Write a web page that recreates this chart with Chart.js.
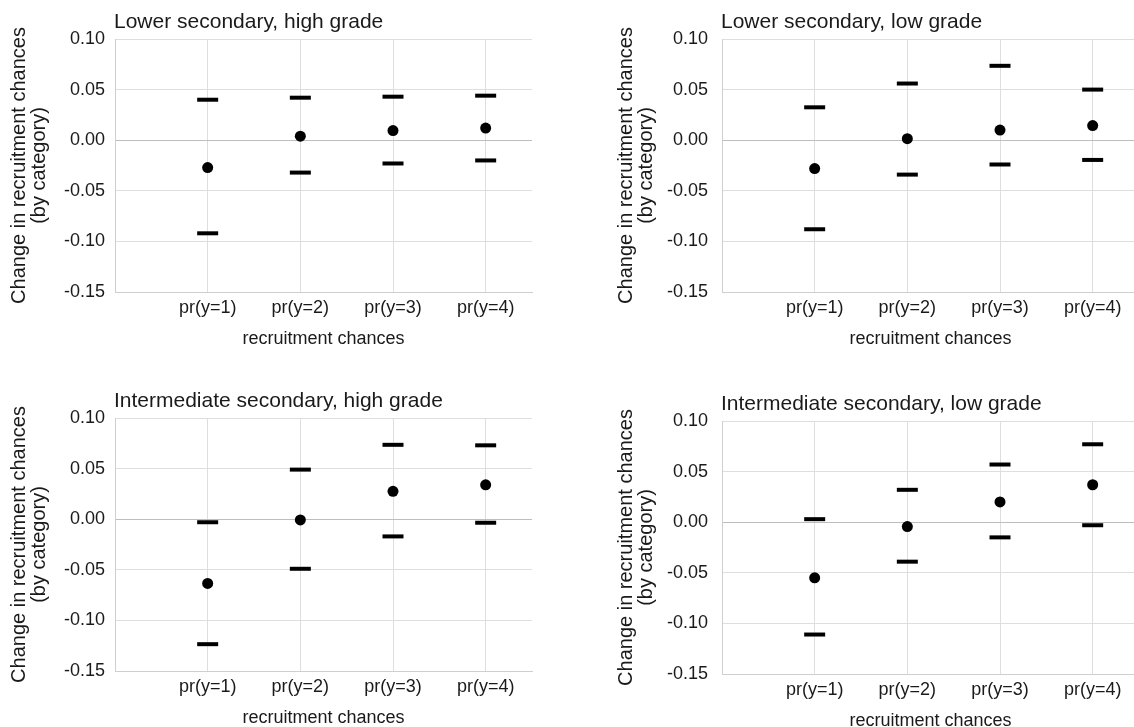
<!DOCTYPE html>
<html>
<head>
<meta charset="utf-8">
<script src="https://cdn.jsdelivr.net/npm/chart.js@4"></script>
<style>
  body { margin: 0; background: #fff; width: 1134px; height: 727px; overflow: hidden; position: relative; }
  canvas { position: absolute; }
</style>
</head>
<body>
<canvas id="c1" width="560" height="360" style="left:0px;top:0px"></canvas>
<canvas id="c2" width="560" height="360" style="left:607px;top:0px"></canvas>
<canvas id="c3" width="560" height="360" style="left:0px;top:379px"></canvas>
<canvas id="c4" width="560" height="360" style="left:607px;top:382px"></canvas>
<script>
const categories = ['pr(y=1)', 'pr(y=2)', 'pr(y=3)', 'pr(y=4)'];
const yTicks = [-0.15, -0.10, -0.05, 0, 0.05, 0.10];

// Lower secondary, high grade
const lowHighEst = [-0.027, 0.004, 0.0095, 0.012];
const lowHighLo = [-0.092, -0.032, -0.023, -0.020];
const lowHighUp = [0.040, 0.042, 0.043, 0.044];

// Lower secondary, low grade
const lowLowEst = [-0.028, 0.0015, 0.010, 0.0145];
const lowLowLo = [-0.088, -0.034, -0.024, -0.0195];
const lowLowUp = [0.0325, 0.056, 0.0735, 0.050];

// Intermediate secondary, high grade
const midHighEst = [-0.0635, -0.0007, 0.0275, 0.034];
const midHighLo = [-0.1235, -0.049, -0.017, -0.0035];
const midHighUp = [-0.003, 0.049, 0.0735, 0.073];

// Intermediate secondary, low grade
const midLowEst = [-0.055, -0.0043, 0.020, 0.037];
const midLowLo = [-0.111, -0.039, -0.015, -0.003];
const midLowUp = [0.003, 0.032, 0.057, 0.077];

Chart.defaults.font.family = '"Liberation Sans", Arial, sans-serif';
Chart.defaults.color = '#1a1a1a';

// titolo del pannello allineato all'area del grafico
const panelTitle = {
    id: 'panelTitle',
    afterDraw(chart, args, opts) {
        const ctx = chart.ctx;
        ctx.save();
        ctx.font = '21px "Liberation Sans", Arial, sans-serif';
        ctx.fillStyle = '#1a1a1a';
        ctx.textBaseline = 'alphabetic';
        ctx.fillText(opts.text, chart.chartArea.left - 1, chart.chartArea.top - 11);
        ctx.restore();
    }
};

function toPoints(values) {
    return values.map((v, i) => ({ x: i + 1, y: v }));
}

function renderPanel(id, title, est, lo, up, tickPad) {
    const ctx = document.getElementById(id).getContext('2d');
    const bound = data => ({
        data: toPoints(data),
        pointStyle: 'line',
        radius: 10.5,
        borderWidth: 4,
        borderColor: '#000',
        backgroundColor: '#000'
    });
    new Chart(ctx, {
        type: 'scatter',
        data: {
            datasets: [
                bound(up),
                bound(lo),
                {
                    data: toPoints(est),
                    pointStyle: 'circle',
                    radius: 5.5,
                    borderWidth: 0,
                    backgroundColor: '#000'
                }
            ]
        },
        options: {
            responsive: false,
            animation: false,
            devicePixelRatio: 1,
            layout: { padding: { top: 39, right: 28, bottom: 0, left: 0 } },
            plugins: {
                legend: { display: false },
                tooltip: { enabled: false },
                panelTitle: { text: title }
            },
            scales: {
                x: {
                    type: 'linear',
                    min: 0,
                    max: 4.5,
                    afterBuildTicks: scale => {
                        scale.ticks = categories.map((c, i) => ({ value: i + 1 }));
                    },
                    afterFit: scale => { scale.height = 68; },
                    ticks: {
                        padding: 5,
                        font: { size: 18 },
                        callback: v => categories[v - 1]
                    },
                    grid: { color: '#dedede', lineWidth: 1, drawTicks: false },
                    border: { display: true, color: '#cfcfcf' },
                    title: {
                        display: true,
                        text: 'recruitment chances',
                        font: { size: 18 },
                        padding: { top: 0, bottom: 10 }
                    }
                },
                y: {
                    min: -0.15,
                    max: 0.10,
                    afterBuildTicks: scale => {
                        scale.ticks = yTicks.map(v => ({ value: v }));
                    },
                    afterFit: scale => { scale.width = 115; },
                    ticks: {
                        padding: tickPad,
                        font: { size: 18 },
                        callback: v => v.toFixed(2)
                    },
                    grid: {
                        drawTicks: false,
                        color: c => (c.tick && c.tick.value === 0 ? '#bdbdbd' : '#dedede')
                    },
                    border: { display: true, color: '#cfcfcf' },
                    title: {
                        display: true,
                        text: ['Change in recruitment chances', '(by category)'],
                        font: { size: 20, lineHeight: 1 },
                        padding: { top: 9, bottom: 0 }
                    }
                }
            }
        },
        plugins: [panelTitle]
    });
}

renderPanel('c1', 'Lower secondary, high grade', lowHighEst, lowHighLo, lowHighUp, 10);
renderPanel('c2', 'Lower secondary, low grade', lowLowEst, lowLowLo, lowLowUp, 14);
renderPanel('c3', 'Intermediate secondary, high grade', midHighEst, midHighLo, midHighUp, 10);
renderPanel('c4', 'Intermediate secondary, low grade', midLowEst, midLowLo, midLowUp, 14);
</script>
</body>
</html>
